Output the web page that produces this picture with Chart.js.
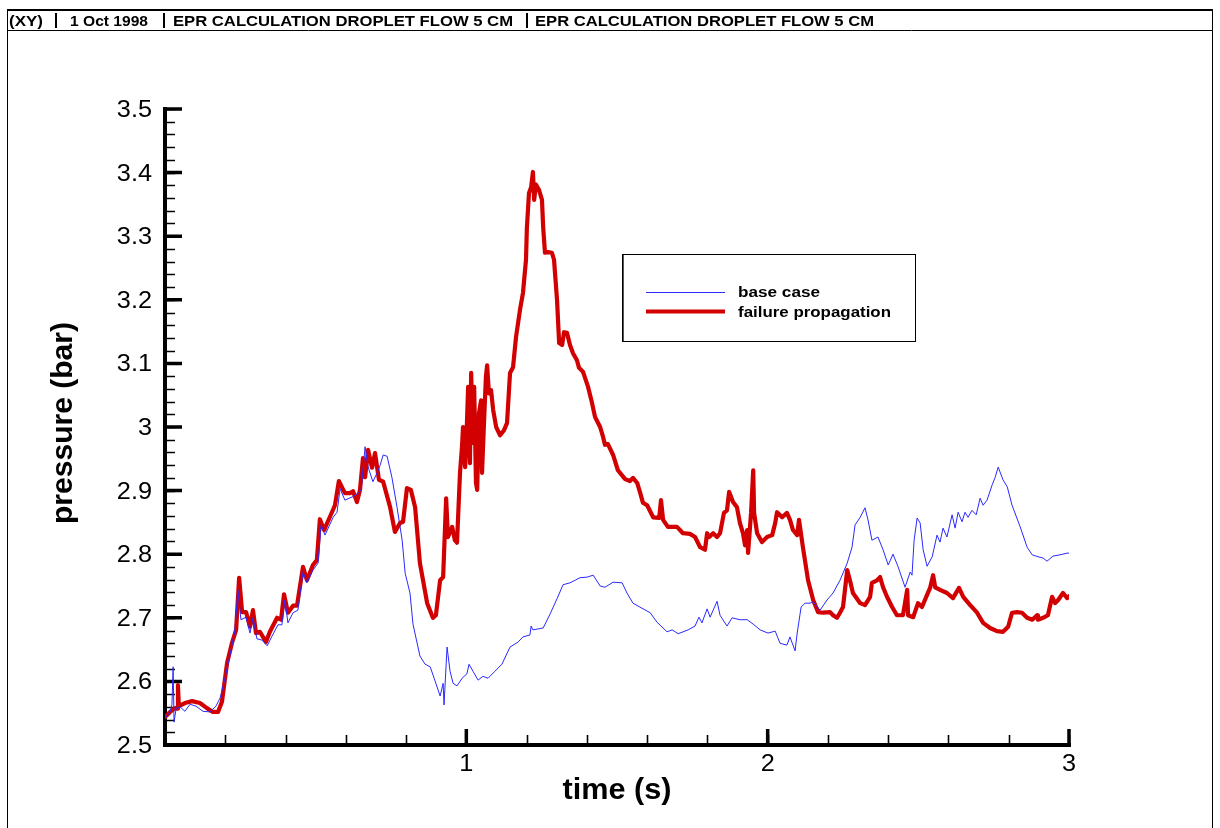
<!DOCTYPE html>
<html>
<head>
<meta charset="utf-8">
<title>EPR calculation droplet flow 5 cm</title>
<script src="https://cdn.jsdelivr.net/npm/chart.js@4.4.0/dist/chart.umd.min.js"></script>
<style>
  html, body { margin: 0; padding: 0; background: #ffffff; }
  canvas { display: block; }
</style>
</head>
<body>
<canvas id="plot" width="1220" height="828"></canvas>
<script>
// Pressure history, base case (time in s, pressure in bar)
const baseTime = [
  0.000,0.017,0.023,0.027,0.030,0.037,0.050,0.066,0.083,0.103,
  0.126,0.149,0.169,0.183,0.199,0.216,0.232,0.242,0.252,0.269,
  0.282,0.292,0.305,0.322,0.339,0.355,0.375,0.388,0.398,0.408,
  0.425,0.441,0.458,0.471,0.491,0.508,0.518,0.531,0.558,0.571,
  0.581,0.597,0.621,0.641,0.651,0.664,0.674,0.690,0.704,0.714,
  0.724,0.737,0.753,0.770,0.787,0.797,0.813,0.823,0.846,0.863,
  0.880,0.896,0.913,0.923,0.926,0.936,0.946,0.956,0.969,0.986,
  1.002,1.009,1.022,1.039,1.055,1.072,1.095,1.118,1.145,1.172,
  1.188,1.211,1.215,1.221,1.255,1.278,1.301,1.321,1.344,1.361,
  1.377,1.401,1.421,1.444,1.460,1.487,1.517,1.533,1.553,1.583,
  1.610,1.633,1.666,1.683,1.703,1.736,1.759,1.772,1.782,1.799,
  1.809,1.832,1.842,1.865,1.882,1.908,1.932,1.952,1.975,2.001,
  2.025,2.041,2.064,2.074,2.091,2.098,2.111,2.124,2.141,2.151,
  2.174,2.197,2.217,2.240,2.264,2.280,2.290,2.307,2.323,2.333,
  2.346,2.366,2.383,2.400,2.416,2.433,2.456,2.473,2.479,2.486,
  2.496,2.506,2.516,2.529,2.546,2.562,2.572,2.582,2.595,2.612,
  2.622,2.632,2.645,2.655,2.665,2.678,2.692,2.705,2.715,2.728,
  2.745,2.755,2.765,2.781,2.795,2.811,2.838,2.861,2.878,2.897,
  2.914,2.927,2.947,2.970,2.997,3.000
];
const basePressure = [
  2.542,2.552,2.563,2.623,2.536,2.558,2.560,2.553,2.564,2.561,
  2.553,2.552,2.561,2.574,2.605,2.642,2.681,2.744,2.697,2.701,
  2.676,2.700,2.667,2.665,2.656,2.671,2.689,2.689,2.728,2.692,
  2.708,2.712,2.772,2.755,2.775,2.786,2.846,2.830,2.858,2.866,
  2.903,2.885,2.890,2.896,2.901,2.969,2.937,2.914,2.928,2.940,
  2.956,2.954,2.921,2.874,2.822,2.770,2.739,2.690,2.640,2.627,
  2.623,2.601,2.577,2.597,2.563,2.654,2.616,2.597,2.593,2.605,
  2.612,2.627,2.616,2.602,2.608,2.605,2.616,2.627,2.654,2.662,
  2.670,2.673,2.687,2.681,2.684,2.706,2.730,2.752,2.755,2.759,
  2.763,2.764,2.767,2.750,2.748,2.756,2.755,2.739,2.723,2.715,
  2.708,2.693,2.678,2.681,2.675,2.681,2.687,2.701,2.692,2.714,
  2.701,2.726,2.704,2.687,2.700,2.697,2.697,2.690,2.681,2.676,
  2.679,2.660,2.657,2.670,2.648,2.676,2.717,2.723,2.723,2.725,
  2.712,2.728,2.739,2.759,2.786,2.811,2.846,2.858,2.873,2.854,
  2.822,2.827,2.807,2.783,2.800,2.780,2.748,2.772,2.767,2.822,
  2.857,2.849,2.807,2.781,2.796,2.830,2.819,2.841,2.827,2.862,
  2.841,2.866,2.851,2.866,2.858,2.869,2.862,2.888,2.877,2.885,
  2.909,2.921,2.937,2.917,2.906,2.877,2.843,2.811,2.799,2.796,
  2.794,2.789,2.797,2.799,2.802,2.801
];

// Pressure history with failure propagation
const failTime = [
  0.000,0.017,0.033,0.040,0.043,0.046,0.066,0.090,0.116,0.139,
  0.159,0.176,0.189,0.206,0.222,0.236,0.246,0.256,0.269,0.282,
  0.292,0.302,0.315,0.335,0.348,0.372,0.385,0.395,0.408,0.425,
  0.438,0.458,0.471,0.491,0.504,0.514,0.528,0.554,0.564,0.577,
  0.597,0.614,0.624,0.637,0.647,0.657,0.664,0.674,0.687,0.697,
  0.710,0.724,0.747,0.763,0.780,0.790,0.803,0.816,0.830,0.846,
  0.870,0.889,0.899,0.913,0.923,0.933,0.939,0.953,0.962,0.969,
  0.979,0.986,0.989,0.996,1.002,1.006,1.012,1.016,1.022,1.026,
  1.032,1.036,1.042,1.049,1.052,1.059,1.065,1.069,1.075,1.082,
  1.089,1.099,1.112,1.125,1.135,1.145,1.155,1.165,1.178,1.188,
  1.198,1.201,1.208,1.215,1.221,1.225,1.231,1.241,1.251,1.255,
  1.261,1.271,1.284,1.291,1.301,1.308,1.318,1.324,1.334,1.344,
  1.354,1.367,1.374,1.387,1.404,1.417,1.427,1.444,1.454,1.460,
  1.470,1.487,1.503,1.527,1.543,1.553,1.567,1.576,1.586,1.600,
  1.620,1.640,1.646,1.653,1.669,1.699,1.719,1.742,1.759,1.776,
  1.792,1.799,1.806,1.819,1.832,1.842,1.855,1.865,1.872,1.885,
  1.898,1.908,1.918,1.925,1.932,1.935,1.945,1.952,1.955,1.965,
  1.981,1.998,2.015,2.025,2.031,2.048,2.064,2.074,2.084,2.098,
  2.104,2.117,2.134,2.151,2.167,2.184,2.207,2.217,2.230,2.240,
  2.250,2.264,2.273,2.283,2.307,2.323,2.340,2.346,2.363,2.373,
  2.383,2.396,2.413,2.429,2.449,2.463,2.466,2.483,2.499,2.512,
  2.529,2.539,2.549,2.556,2.572,2.595,2.615,2.635,2.649,2.672,
  2.695,2.715,2.738,2.761,2.781,2.798,2.811,2.828,2.844,2.861,
  2.878,2.894,2.897,2.914,2.930,2.944,2.954,2.964,2.980,2.994,
  3.000
];
const failPressure = [
  2.544,2.552,2.558,2.557,2.594,2.561,2.566,2.569,2.566,2.558,
  2.552,2.552,2.568,2.629,2.660,2.681,2.763,2.709,2.709,2.686,
  2.712,2.676,2.678,2.662,2.678,2.700,2.697,2.737,2.708,2.719,
  2.719,2.780,2.759,2.783,2.791,2.855,2.838,2.866,2.877,2.915,
  2.896,2.896,2.899,2.882,2.901,2.951,2.921,2.964,2.936,2.959,
  2.917,2.914,2.874,2.835,2.849,2.851,2.904,2.901,2.874,2.786,
  2.723,2.700,2.704,2.759,2.764,2.888,2.827,2.843,2.822,2.818,
  2.928,2.972,3.000,2.937,3.006,3.063,2.943,3.085,2.975,3.063,
  2.912,2.901,3.022,3.042,2.928,3.011,3.079,3.097,3.053,3.058,
  3.027,3.000,2.987,2.995,3.006,3.085,3.094,3.142,3.184,3.211,
  3.263,3.314,3.368,3.377,3.401,3.357,3.381,3.373,3.357,3.314,
  3.274,3.275,3.274,3.263,3.200,3.132,3.129,3.149,3.148,3.129,
  3.116,3.105,3.093,3.087,3.063,3.038,3.016,3.000,2.984,2.972,
  2.973,2.956,2.932,2.918,2.915,2.920,2.912,2.898,2.881,2.877,
  2.858,2.857,2.885,2.854,2.843,2.843,2.833,2.832,2.827,2.811,
  2.807,2.833,2.827,2.833,2.827,2.833,2.865,2.869,2.898,2.882,
  2.874,2.849,2.833,2.814,2.838,2.802,2.866,2.932,2.865,2.833,
  2.819,2.827,2.830,2.849,2.866,2.858,2.865,2.854,2.838,2.830,
  2.854,2.811,2.759,2.728,2.709,2.708,2.709,2.704,2.700,2.708,
  2.717,2.775,2.759,2.739,2.723,2.720,2.733,2.755,2.759,2.764,
  2.748,2.733,2.717,2.704,2.704,2.744,2.704,2.701,2.723,2.717,
  2.736,2.747,2.767,2.748,2.744,2.739,2.731,2.747,2.733,2.720,
  2.708,2.692,2.684,2.679,2.678,2.686,2.708,2.709,2.708,2.700,
  2.697,2.704,2.697,2.700,2.704,2.733,2.723,2.728,2.739,2.731,
  2.734
];

// Axis ticks and labels
const yMajorTicks = [2.5, 2.6, 2.7, 2.8, 2.9, 3.0, 3.1, 3.2, 3.3, 3.4, 3.5];
const yTickLabels = ['2.5', '2.6', '2.7', '2.8', '2.9', '3', '3.1', '3.2', '3.3', '3.4', '3.5'];
const xMajorTicks = [1, 2, 3];
const xTickLabels = ['1', '2', '3'];
const yMinorStep = 0.02;
const xMinorStep = 0.2;

const seriesNames = ['base case', 'failure propagation'];
const headerFields = ['(XY)', '1 Oct 1998', 'EPR CALCULATION DROPLET FLOW 5 CM', 'EPR CALCULATION DROPLET FLOW 5 CM'];
const xTitle = 'time (s)';
const yTitle = 'pressure (bar)';

const BLUE = '#2a2aff';
const RED = '#d20000';
const FONT = '"Liberation Sans", Arial, Helvetica, sans-serif';
const STRETCH = 1.1; // the plotting font runs a little wider than Arial

function toPoints(xs, ys) {
  return xs.map((x, i) => ({ x: x, y: ys[i] }));
}

// text drawn with a horizontal stretch
function drawStretched(ctx, text, x, y, font, sx, align) {
  ctx.save();
  ctx.font = font;
  ctx.textAlign = align;
  ctx.textBaseline = 'alphabetic';
  ctx.translate(x, y);
  ctx.scale(sx, 1);
  ctx.fillText(text, 0, 0);
  ctx.restore();
}

// text squeezed or widened to fill a given width
function drawFitted(ctx, text, x, y, font, width, align) {
  ctx.save();
  ctx.font = font;
  const w = ctx.measureText(text).width;
  ctx.restore();
  drawStretched(ctx, text, x, y, font, width / w, align);
}

const framePlugin = {
  id: 'frame',
  beforeDraw(chart) {
    const ctx = chart.ctx;
    ctx.save();
    ctx.fillStyle = '#ffffff';
    ctx.fillRect(0, 0, chart.width, chart.height);

    // page frame and header strip
    ctx.strokeStyle = '#000000';
    ctx.lineWidth = 1;
    ctx.beginPath();
    ctx.moveTo(7.5, 10); ctx.lineTo(7.5, 828);
    ctx.moveTo(1212.5, 10); ctx.lineTo(1212.5, 828);
    ctx.moveTo(7, 30.5); ctx.lineTo(1213, 30.5);
    ctx.stroke();
    ctx.lineWidth = 2;
    ctx.beginPath();
    ctx.moveTo(7, 10); ctx.lineTo(1213, 10);
    ctx.stroke();

    ctx.fillStyle = '#000000';
    const hFont = 'bold 14px ' + FONT;
    const hLeft = [9, 70, 173, 535];
    const hWidth = [34, 78, 340, 339];
    headerFields.forEach((t, i) => drawFitted(ctx, t, hLeft[i], 26, hFont, hWidth[i], 'left'));
    ctx.lineWidth = 2;
    ctx.beginPath();
    [56, 164, 527].forEach(x => { ctx.moveTo(x, 13); ctx.lineTo(x, 28); });
    ctx.stroke();
    ctx.restore();
  },
  beforeDatasetsDraw(chart) {
    const ctx = chart.ctx;
    const xs = chart.scales.x;
    const ys = chart.scales.y;
    const x0 = xs.getPixelForValue(xs.min);
    const x1 = xs.getPixelForValue(xs.max);
    const y0 = ys.getPixelForValue(ys.min);
    const y1 = ys.getPixelForValue(ys.max);
    ctx.save();
    ctx.strokeStyle = '#000000';
    ctx.lineCap = 'butt';

    // minor ticks
    ctx.lineWidth = 1.6;
    ctx.beginPath();
    for (let v = ys.min; v <= ys.max + 1e-9; v += yMinorStep) {
      const py = Math.round(ys.getPixelForValue(v)) + 0.5;
      ctx.moveTo(x0, py); ctx.lineTo(x0 + 10, py);
    }
    for (let v = xs.min + xMinorStep; v <= xs.max + 1e-9; v += xMinorStep) {
      const px = Math.round(xs.getPixelForValue(v)) + 0.5;
      ctx.moveTo(px, y0); ctx.lineTo(px, y0 - 10);
    }
    ctx.stroke();

    // major ticks
    ctx.lineWidth = 3.5;
    ctx.beginPath();
    yMajorTicks.forEach(v => {
      const py = ys.getPixelForValue(v);
      ctx.moveTo(x0, py); ctx.lineTo(x0 + 17, py);
    });
    xMajorTicks.forEach(v => {
      const px = xs.getPixelForValue(v);
      ctx.moveTo(px, y0); ctx.lineTo(px, y0 - 16);
    });
    ctx.stroke();

    // axis lines
    ctx.lineWidth = 4;
    ctx.beginPath();
    ctx.moveTo(x0, y1 - 2); ctx.lineTo(x0, y0 + 2);
    ctx.moveTo(x0 - 2, y0); ctx.lineTo(x1 + 2, y0);
    ctx.stroke();

    // tick labels
    ctx.fillStyle = '#000000';
    const tFont = '23px ' + FONT;
    yMajorTicks.forEach((v, i) => {
      drawStretched(ctx, yTickLabels[i], x0 - 13, ys.getPixelForValue(v) + 8, tFont, STRETCH, 'right');
    });
    xMajorTicks.forEach((v, i) => {
      drawStretched(ctx, xTickLabels[i], xs.getPixelForValue(v), y0 + 26, tFont, STRETCH, 'center');
    });

    // axis titles
    const aFont = 'bold 29px ' + FONT;
    drawFitted(ctx, xTitle, (x0 + x1) / 2, y0 + 54, aFont, 109, 'center');
    ctx.save();
    ctx.translate(72, (y0 + y1) / 2 - 4);
    ctx.rotate(-Math.PI / 2);
    drawFitted(ctx, yTitle, 0, 0, aFont, 202, 'center');
    ctx.restore();
    ctx.restore();
  },
  afterDatasetsDraw(chart) {
    // legend box
    const ctx = chart.ctx;
    ctx.save();
    ctx.fillStyle = '#ffffff';
    ctx.fillRect(622, 254, 294, 88);
    ctx.strokeStyle = '#000000';
    ctx.lineWidth = 1;
    ctx.strokeRect(622.5, 254.5, 293, 87);
    ctx.strokeStyle = '#555555';
    ctx.beginPath();
    ctx.moveTo(623.5, 255); ctx.lineTo(623.5, 341);
    ctx.stroke();

    ctx.lineWidth = 1;
    ctx.strokeStyle = BLUE;
    ctx.beginPath();
    ctx.moveTo(646, 292.5); ctx.lineTo(725, 292.5);
    ctx.stroke();
    ctx.lineWidth = 4;
    ctx.strokeStyle = RED;
    ctx.beginPath();
    ctx.moveTo(646, 311.5); ctx.lineTo(725, 311.5);
    ctx.stroke();

    ctx.fillStyle = '#000000';
    const lFont = 'bold 14.5px ' + FONT;
    drawFitted(ctx, seriesNames[0], 738, 297, lFont, 82, 'left');
    drawFitted(ctx, seriesNames[1], 738, 316.5, lFont, 153, 'left');
    ctx.restore();
  }
};

new Chart(document.getElementById('plot'), {
  type: 'scatter',
  data: {
    datasets: [
      {
        label: seriesNames[0],
        data: toPoints(baseTime, basePressure),
        showLine: true,
        borderColor: BLUE,
        backgroundColor: BLUE,
        borderWidth: 1,
        pointRadius: 0,
        tension: 0
      },
      {
        label: seriesNames[1],
        data: toPoints(failTime, failPressure),
        showLine: true,
        borderColor: RED,
        backgroundColor: RED,
        borderWidth: 4.2,
        borderJoinStyle: 'round',
        borderCapStyle: 'round',
        pointRadius: 0,
        tension: 0
      }
    ]
  },
  options: {
    responsive: false,
    animation: false,
    devicePixelRatio: 1,
    layout: { padding: { left: 165, right: 151, top: 109, bottom: 83 } },
    plugins: { legend: { display: false }, title: { display: false }, tooltip: { enabled: false } },
    scales: {
      x: { type: 'linear', min: 0, max: 3, display: false },
      y: { type: 'linear', min: 2.5, max: 3.5, display: false }
    }
  },
  plugins: [framePlugin]
});
</script>
</body>
</html>
